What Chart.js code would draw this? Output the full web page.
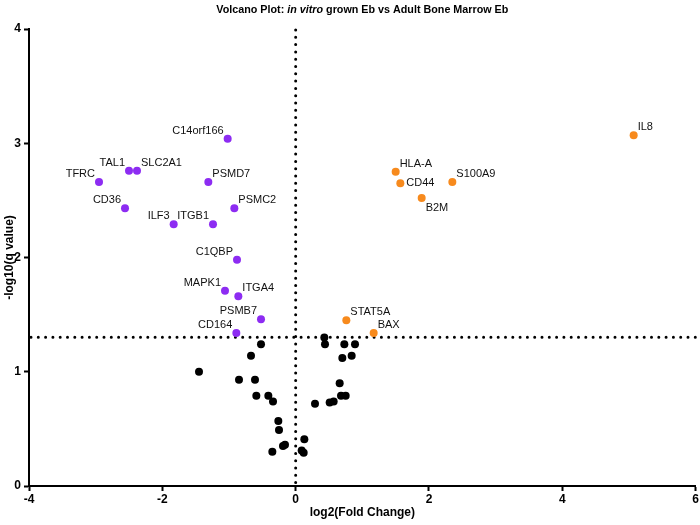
<!DOCTYPE html>
<html>
<head>
<meta charset="utf-8">
<script src="https://cdn.jsdelivr.net/npm/chart.js@4/dist/chart.umd.min.js"></script>
<style>
  html, body { margin: 0; padding: 0; background: #fff; }
  #wrap { width: 700px; height: 525px; }
</style>
</head>
<body>
<div id="wrap"><canvas id="volcano" width="700" height="525"></canvas></div>
<script>
// up-regulated genes (orange)
const upGenes = ["IL8", "HLA-A", "CD44", "S100A9", "B2M", "STAT5A", "BAX"];
const upFC    = [5.07, 1.50, 1.57, 2.35, 1.89, 0.76, 1.17];
const upQ     = [3.07, 2.75, 2.65, 2.66, 2.52, 1.45, 1.34];

// down-regulated genes (purple)
const downGenes = ["C14orf166", "TAL1", "SLC2A1", "TFRC", "PSMD7", "CD36", "PSMC2",
                   "ILF3", "ITGB1", "C1QBP", "MAPK1", "ITGA4", "PSMB7", "CD164"];
const downFC = [-1.02, -2.50, -2.38, -2.95, -1.31, -2.56, -0.92,
                -1.83, -1.24, -0.88, -1.06, -0.86, -0.52, -0.89];
const downQ  = [3.04, 2.76, 2.76, 2.66, 2.66, 2.43, 2.43,
                2.29, 2.29, 1.98, 1.71, 1.66, 1.46, 1.34];

// not significant (black)
const nsFC = [-0.52, -0.67, -1.45, -0.85, -0.61, -0.59, -0.41, -0.34, -0.26, -0.25,
              -0.19, -0.16, -0.35, 0.13, 0.09, 0.12, 0.43, 0.44, 0.73, 0.89,
              0.70, 0.84, 0.66, 0.68, 0.75, 0.29, 0.51, 0.57];
const nsQ  = [1.24, 1.14, 1.00, 0.93, 0.93, 0.79, 0.79, 0.74, 0.57, 0.49,
              0.35, 0.36, 0.30, 0.41, 0.31, 0.29, 1.30, 1.24, 1.24, 1.24,
              1.12, 1.14, 0.90, 0.79, 0.79, 0.72, 0.73, 0.74];

// cut-offs
const fcCut = 0;
const qCut = 1.301;

// where each gene name sits next to its dot
const labelSide = {
  "IL8": "ur", "HLA-A": "ur", "CD44": "r", "S100A9": "ur", "B2M": "dr", "STAT5A": "ur", "BAX": "ur",
  "C14orf166": "ul", "TAL1": "ul", "SLC2A1": "ur", "TFRC": "ul", "PSMD7": "ur", "CD36": "ul",
  "PSMC2": "ur", "ILF3": "ul", "ITGB1": "ul", "C1QBP": "ul", "MAPK1": "ul", "ITGA4": "ur",
  "PSMB7": "ul", "CD164": "ul"
};

const narrow = "'Liberation Sans Narrow', 'Liberation Sans', Arial, sans-serif";
const plain = "'Liberation Sans', Arial, sans-serif";

const toPoints = (xs, ys) => xs.map((x, i) => ({ x: x, y: ys[i] }));

const cutLines = {
  id: "cutLines",
  beforeDatasetsDraw(chart) {
    const { ctx, chartArea, scales } = chart;
    const x0 = scales.x.getPixelForValue(fcCut);
    const y0 = scales.y.getPixelForValue(qCut);
    ctx.save();
    ctx.strokeStyle = "#000";
    ctx.lineWidth = 3;
    ctx.lineCap = "round";
    ctx.setLineDash([0, 7.3]);
    ctx.beginPath();
    ctx.moveTo(x0, chartArea.top + 1);
    ctx.lineTo(x0, chartArea.bottom);
    ctx.stroke();
    ctx.beginPath();
    ctx.moveTo(chartArea.left + 2, y0);
    ctx.lineTo(chartArea.right, y0);
    ctx.stroke();
    ctx.restore();
  }
};

const geneLabels = {
  id: "geneLabels",
  afterDatasetsDraw(chart) {
    const ctx = chart.ctx;
    ctx.save();
    ctx.font = "11px " + plain;
    ctx.fillStyle = "#111";
    ctx.textBaseline = "middle";
    chart.data.datasets.forEach((ds, di) => {
      if (!ds.genes) return;
      const meta = chart.getDatasetMeta(di);
      meta.data.forEach((pt, i) => {
        const name = ds.genes[i];
        const side = labelSide[name] || "ur";
        let tx = pt.x, ty = pt.y;
        if (side === "ul") { ctx.textAlign = "right"; tx -= 4; ty -= 8; }
        else if (side === "ur") { ctx.textAlign = "left"; tx += 4; ty -= 8; }
        else if (side === "r") { ctx.textAlign = "left"; tx += 6; ty += 0; }
        else if (side === "dr") { ctx.textAlign = "left"; tx += 4; ty += 10; }
        ctx.fillText(name, tx, ty);
      });
    });
    ctx.restore();
  }
};

const titlePlot = {
  id: "titlePlot",
  afterDraw(chart) {
    const { ctx, chartArea } = chart;
    const parts = [
      ["Volcano Plot: ", "bold"],
      ["in vitro", "italic bold"],
      [" grown Eb vs Adult Bone Marrow Eb", "bold"]
    ];
    ctx.save();
    let total = 0;
    parts.forEach(p => { ctx.font = p[1] + " 11px " + narrow; total += ctx.measureText(p[0]).width; });
    const sx = 292 / total;
    const cx = (chartArea.left + chartArea.right) / 2;
    ctx.translate(cx - 146, 10);
    ctx.scale(sx, 1);
    ctx.fillStyle = "#000";
    ctx.textBaseline = "middle";
    ctx.textAlign = "left";
    let x = 0;
    parts.forEach(p => {
      ctx.font = p[1] + " 11px " + narrow;
      ctx.fillText(p[0], x, 0);
      x += ctx.measureText(p[0]).width;
    });
    ctx.restore();
  }
};

new Chart(document.getElementById("volcano"), {
  type: "scatter",
  data: {
    datasets: [
      {
        label: "NS",
        data: toPoints(nsFC, nsQ),
        backgroundColor: "#000",
        pointRadius: 4,
        pointBorderWidth: 0
      },
      {
        label: "Down",
        genes: downGenes,
        data: toPoints(downFC, downQ),
        backgroundColor: "#8d2cf2",
        pointRadius: 4,
        pointBorderWidth: 0
      },
      {
        label: "Up",
        genes: upGenes,
        data: toPoints(upFC, upQ),
        backgroundColor: "#f78a1d",
        pointRadius: 4,
        pointBorderWidth: 0
      }
    ]
  },
  options: {
    responsive: false,
    animation: false,
    layout: { padding: { top: 29, right: 3, left: 0, bottom: 0 } },
    plugins: {
      legend: { display: false },
      tooltip: { enabled: false }
    },
    scales: {
      x: {
        type: "linear",
        min: -4,
        max: 6,
        afterFit: s => { s.height = 39; },
        ticks: {
          stepSize: 2,
          color: "#000",
          padding: 1,
          font: { family: narrow, size: 12, weight: "bold" }
        },
        grid: {
          drawOnChartArea: false,
          drawTicks: true,
          tickLength: 5,
          tickWidth: 2,
          tickColor: "#000"
        },
        border: { color: "#000", width: 2 },
        title: {
          display: true,
          text: "log2(Fold Change)",
          color: "#000",
          padding: { top: 0, bottom: 5 },
          font: { family: narrow, size: 12, weight: "bold" }
        }
      },
      y: {
        type: "linear",
        min: 0,
        max: 4,
        afterFit: s => { s.width = 29; },
        ticks: {
          stepSize: 1,
          color: "#000",
          padding: 3,
          font: { family: narrow, size: 12, weight: "bold" }
        },
        grid: {
          drawOnChartArea: false,
          drawTicks: true,
          tickLength: 5,
          tickWidth: 2,
          tickColor: "#000"
        },
        border: { color: "#000", width: 2 },
        title: {
          display: true,
          text: "-log10(q value)",
          color: "#000",
          padding: { top: 2, bottom: 0 },
          font: { family: narrow, size: 12, weight: "bold" }
        }
      }
    }
  },
  plugins: [cutLines, geneLabels, titlePlot]
});
</script>
</body>
</html>
